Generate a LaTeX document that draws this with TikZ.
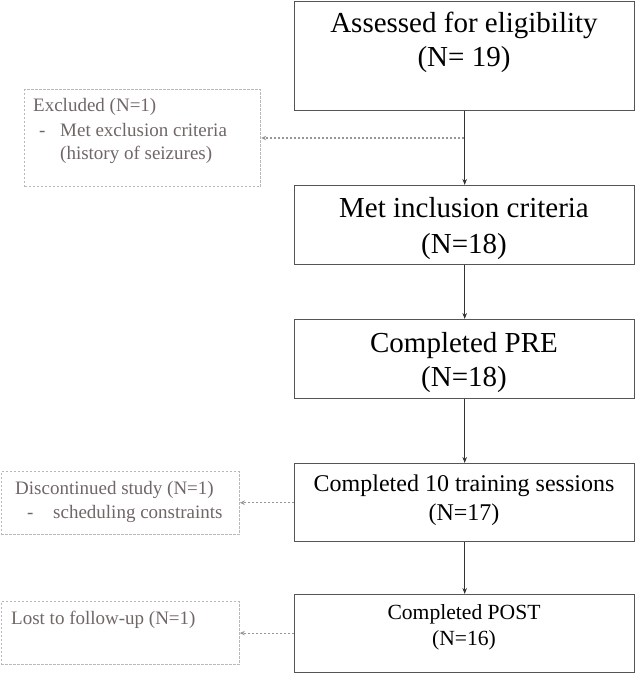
\documentclass[tikz,border=0pt]{standalone}
\usepackage{fontspec}
\setmainfont{Liberation Serif}
\usetikzlibrary{arrows.meta}
\definecolor{boxline}{RGB}{85,85,85}
\definecolor{sidetext}{RGB}{112,102,102}
\definecolor{sideline}{RGB}{185,185,185}
\definecolor{sidearrow}{RGB}{150,150,150}
\tikzset{
  x=1pt, y=-1pt,
  mainbox/.style={draw=boxline, line width=1.4pt, rectangle, inner sep=0pt, anchor=north west},
  sidebox/.style={draw=sideline, line width=1.2pt, dash pattern=on 2.5pt off 1.5pt, rectangle, inner sep=0pt, anchor=north west},
  maintext/.style={anchor=base, inner sep=0pt, text=black},
  sidetxt/.style={anchor=base west, inner sep=0pt, text=sidetext, font=\fontsize{19}{22}\selectfont},
  flow/.style={draw=black!80, line width=0.9pt, -{Stealth[length=6pt,width=4.5pt]}},
  sideflow/.style={draw=sidearrow, line width=1.1pt, dash pattern=on 2.5pt off 1.5pt, -{Stealth[length=5pt,width=4.5pt]}}
}
\begin{document}
\begin{tikzpicture}
\useasboundingbox (0,0) rectangle (637,694);
% main boxes
\node[mainbox, minimum width=340pt, minimum height=109pt] (b1) at (294,0.7) {};
\node[mainbox, minimum width=340pt, minimum height=79pt] (b2) at (294,185) {};
\node[mainbox, minimum width=340pt, minimum height=79pt] (b3) at (294,319) {};
\node[mainbox, minimum width=340pt, minimum height=78pt] (b4) at (294,463) {};
\node[mainbox, minimum width=340pt, minimum height=78pt] (b5) at (294,594) {};
% main texts
\node[maintext, font=\fontsize{29}{34}\selectfont] (t1a) at (464,32) {Assessed for eligibility};
\node[maintext, font=\fontsize{29}{34}\selectfont] (t1b) at (464,66) {(N= 19)};
\node[maintext, font=\fontsize{29}{34}\selectfont] (t2a) at (464,217) {Met inclusion criteria};
\node[maintext, font=\fontsize{29}{34}\selectfont] (t2b) at (464,253) {(N=18)};
\node[maintext, font=\fontsize{29}{34}\selectfont] (t3a) at (464,352) {Completed PRE};
\node[maintext, font=\fontsize{29}{34}\selectfont] (t3b) at (464,386) {(N=18)};
\node[maintext, font=\fontsize{24}{28}\selectfont] (t4a) at (464,491) {Completed 10 training sessions};
\node[maintext, font=\fontsize{24}{28}\selectfont] (t4b) at (464,520) {(N=17)};
\node[maintext, font=\fontsize{21.6}{26}\selectfont] (t5a) at (464,619) {Completed POST};
\node[maintext, font=\fontsize{21.6}{26}\selectfont] (t5b) at (464,645) {(N=16)};
% side boxes
\node[sidebox, minimum width=236pt, minimum height=97pt] (ex) at (24,89) {};
\node[sidebox, minimum width=238pt, minimum height=63pt] (dc) at (0.6,471) {};
\node[sidebox, minimum width=238pt, minimum height=63pt] (lf) at (0.6,601) {};
% side texts
\node[sidetxt] (ex1) at (33,111) {Excluded (N=1)};
\node[sidetxt] (ex2) at (39,136) {-};
\node[sidetxt] (ex3) at (60,136) {Met exclusion criteria};
\node[sidetxt] (ex4) at (60,159) {(history of seizures)};
\node[sidetxt] (dc1) at (15,494) {Discontinued study (N=1)};
\node[sidetxt] (dc2) at (27,518) {-};
\node[sidetxt] (dc3) at (53,518) {scheduling constraints};
\node[sidetxt] (lf1) at (11,624) {Lost to follow-up (N=1)};
% connectors
\draw[flow] (b1.south) -- (b2.north);
\draw[flow] (b2.south) -- (b3.north);
\draw[flow] (b3.south) -- (b4.north);
\draw[flow] (b4.south) -- (b5.north);
\coordinate (j1) at (464,138);
\draw[sideflow] (j1) -- (ex.east |- j1);
\draw[sideflow] (b4.west) -- (dc.east |- b4.west);
\draw[sideflow] (b5.west |- lf.east) -- (lf.east);
\end{tikzpicture}
\end{document}
